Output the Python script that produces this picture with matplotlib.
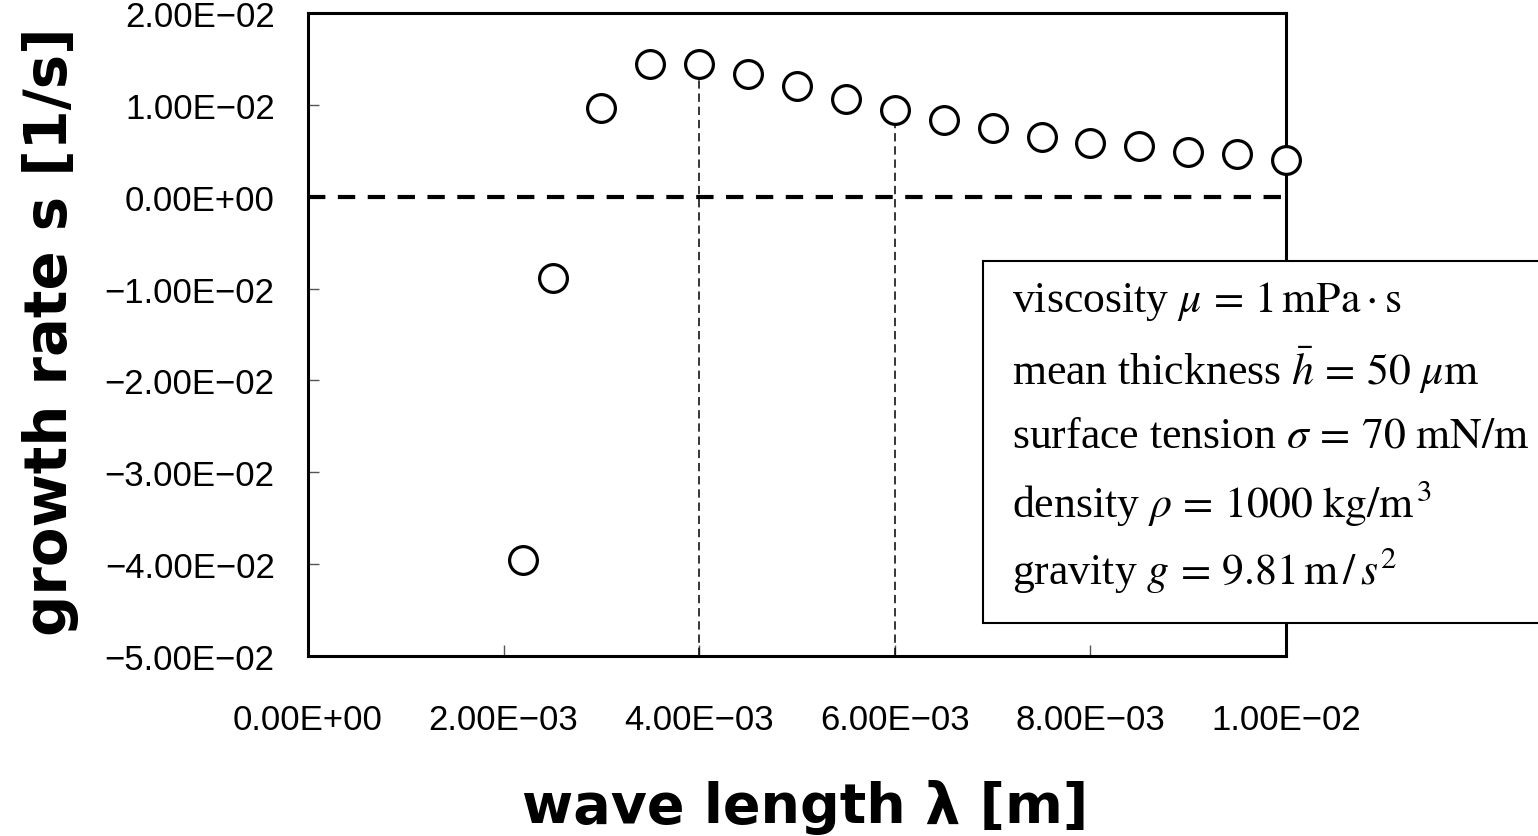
import matplotlib
matplotlib.use("Agg")
import matplotlib.pyplot as plt
from matplotlib.patches import Rectangle
from matplotlib.ticker import FuncFormatter, MultipleLocator

# ---- data ----
wavelength = [2.2e-3, 2.5e-3, 3.0e-3, 3.5e-3, 4.0e-3, 4.5e-3, 5.0e-3, 5.5e-3, 6.0e-3,
              6.5e-3, 7.0e-3, 7.5e-3, 8.0e-3, 8.5e-3, 9.0e-3, 9.5e-3, 1.0e-2]
growth = [-0.0396, -0.0089, 0.0097, 0.0144, 0.0144, 0.0134, 0.0121, 0.0106, 0.0094,
          0.0084, 0.0075, 0.0065, 0.0058, 0.0055, 0.0049, 0.0046, 0.0040]
marked_x = [4.0e-3, 6.0e-3]
marked_y = [0.0144, 0.0094]
x_label = "wave length λ [m]"
y_label = "growth rate s [1/s]"
info_lines = [
    r"viscosity $\mu\,=\,1\,\mathrm{mPa}\cdot\mathrm{s}$",
    r"mean thickness $\bar{h}\,=\,50\ \mu\mathrm{m}$",
    r"surface tension $\sigma\,=\,70\ \mathrm{mN/m}$",
    r"density $\rho\,=\,1000\ \mathrm{kg/m}^{\,3}$",
    r"gravity $g\,=\,9.81\,\mathrm{m}\,/\,s^{2}$",
]

plt.rcParams["mathtext.fontset"] = "stix"
plt.rcParams["lines.scale_dashes"] = False

W, H = 1538, 837
fig = plt.figure(figsize=(W / 100, H / 100), dpi=100)
ax = fig.add_axes([308 / W, 1 - 657 / H, (1286 - 308) / W, (657 - 14) / H])

ax.set_xlim(0, 0.01)
ax.set_ylim(-0.05, 0.02)

# zero line
ax.plot([0, 0.01], [0, 0], color="black", lw=3, dashes=(12.5, 9), zorder=3)
# vertical guide lines
for xv, yv in zip(marked_x, marked_y):
    ax.plot([xv, xv], [-0.05, yv], color="black", lw=1.1, dashes=(6, 3.5), zorder=3)

ax.plot(wavelength, growth, linestyle="none", marker="o", ms=20, mew=2.3,
        mec="black", mfc="white", zorder=6, clip_on=False)

for s in ax.spines.values():
    s.set_linewidth(2.2)
    s.set_zorder(4)

ax.xaxis.set_major_locator(MultipleLocator(0.002))
ax.yaxis.set_major_locator(MultipleLocator(0.01))
fmt = FuncFormatter(lambda v, p: ("%.2E" % (0.0 if abs(v) < 1e-12 else v)).replace("-", "\u2212"))
ax.xaxis.set_major_formatter(fmt)
ax.yaxis.set_major_formatter(fmt)
ax.tick_params(axis="both", direction="in", length=8, width=1, color="#555555")
ax.tick_params(axis="y", pad=24, labelsize=25)
ax.tick_params(axis="x", pad=34, labelsize=25)
for lab in ax.get_yticklabels() + ax.get_xticklabels():
    lab.set_fontfamily("Liberation Sans")

fig.text(805 / W, 1 - 808 / H, x_label, ha="center", va="center",
         fontsize=40, fontweight="bold", family="DejaVu Sans")
fig.text(51 / W, 1 - 332 / H, y_label, ha="center", va="center", rotation=90,
         fontsize=41.5, fontweight="bold", family="DejaVu Sans")

# info box
box = Rectangle((983 / W, 1 - 624 / H), 1.2, (624 - 262) / H, transform=fig.transFigure,
                facecolor="white", edgecolor="black", lw=1.5, zorder=10, clip_on=False)
fig.add_artist(box)
ys = [302, 370, 437, 503, 570]
for yy, line in zip(ys, info_lines):
    t = fig.text(1012 / W, 1 - yy / H, line, ha="left", va="center",
                 fontsize=31.5, family="Liberation Serif")
    t.set_zorder(11)

fig.savefig("out.png", dpi=100)
